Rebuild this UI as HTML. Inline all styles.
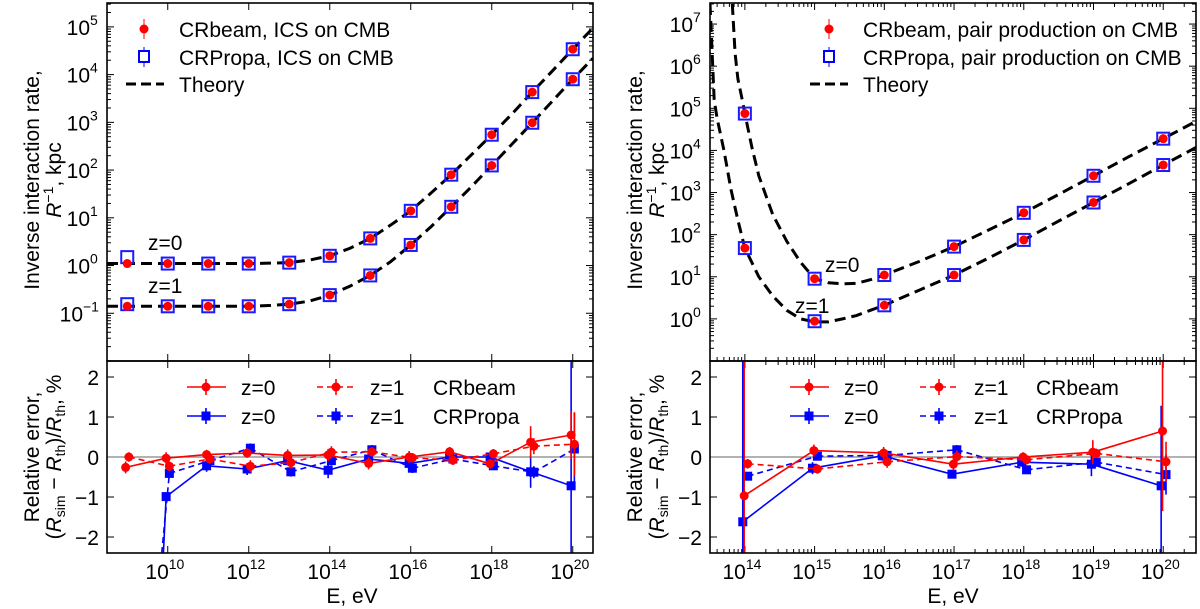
<!DOCTYPE html>
<html><head><meta charset="utf-8"><style>
html,body{margin:0;padding:0;background:#fff;width:1200px;height:609px;overflow:hidden;position:relative}
svg{display:block;position:absolute;left:0;top:0;overflow:hidden}
svg text{font-family:"Liberation Sans","DejaVu Sans",sans-serif;fill:#000}
</style></head><body>
<svg id="fig" width="1200" height="609" viewBox="0 0 1200 609" xmlns="http://www.w3.org/2000/svg"></svg>
<script>
// ---------- LEFT PANEL DATA (ICS on CMB) ----------
const icsE = [9,10,11,12,13,14,15,16,17,18,19,20];
const icsBeamZ0 = [1.1,1.1,1.1,1.1,1.15,1.6,3.7,14,80,550,4300,34000];
const icsPropaZ0 = [1.5,1.1,1.1,1.1,1.15,1.6,3.7,14,80,550,4300,34000];
const icsBeamZ1 = [0.14,0.14,0.14,0.14,0.155,0.24,0.62,2.7,17,125,980,8000];
const icsPropaZ1 = [0.155,0.14,0.14,0.14,0.155,0.24,0.62,2.7,17,125,980,8000];
const icsThE = [8.5,9,9.5,10,10.5,11,11.5,12,12.5,13,13.5,14,14.5,15,15.5,16,16.5,17,17.5,18,18.5,19,19.5,20,20.5];
const icsThZ0 = [1.1,1.1,1.1,1.1,1.1,1.1,1.1,1.1,1.12,1.15,1.3,1.6,2.3,3.7,7,14,33,80,210,550,1500,4300,12000,34000,95000];
const icsThZ1 = [0.14,0.14,0.14,0.14,0.14,0.14,0.14,0.14,0.145,0.155,0.18,0.24,0.37,0.62,1.2,2.7,6.5,17,45,125,350,980,2800,8000,22000];
// relative errors, %
const icsErrBeamZ0 = [-0.26,-0.03,0.06,0.1,0.04,0.05,-0.16,0,0.13,-0.17,0.37,0.55];
const icsErrBeamZ0Unc = [0.15,0.15,0.12,0.12,0.15,0.15,0.15,0.15,0.12,0.12,0.4,0.6];
const icsErrBeamZ1 = [0,-0.23,-0.05,-0.23,-0.14,0.12,0.13,-0.02,-0.08,0.08,0.27,0.32];
const icsErrBeamZ1Unc = [0.12,0.12,0.12,0.15,0.15,0.15,0.12,0.12,0.12,0.12,0.2,0.8];
const icsErrPropaZ0 = [-22,-0.99,-0.22,-0.3,-0.09,-0.33,-0.05,-0.16,0,0,-0.37,-0.72];
const icsErrPropaZ0Unc = [0.5,0.1,0.15,0.15,0.12,0.2,0.12,0.12,0.1,0.1,0.4,6];
const icsErrPropaZ1 = [-11,-0.41,-0.09,0.22,-0.37,-0.09,0.18,-0.28,-0.05,-0.22,-0.38,0.2];
const icsErrPropaZ1Unc = [0.5,0.1,0.1,0.12,0.12,0.12,0.12,0.12,0.1,0.1,0.15,0.9];

// ---------- RIGHT PANEL DATA (pair production on CMB) ----------
const ppE = [14,15,16,17,18,19,20];
const ppBeamZ0 = [75000,9,11,52,330,2500,19000];
const ppPropaZ0 = [75000,9,11,52,330,2500,19000];
const ppBeamZ1 = [48,0.88,2.1,11,75,580,4500];
const ppPropaZ1 = [48,0.88,2.1,11,75,580,4500];
const ppThZ0E = [13.82,13.86,13.9,13.95,14,14.1,14.2,14.4,14.6,14.8,15,15.2,15.4,15.6,15.8,16,16.5,17,17.5,18,18.5,19,19.5,20,20.5];
const ppThZ0 = [3e7,2e6,5e5,2e5,75000,12000,2500,300,70,22,9,7.2,6.8,7,8.5,11,23,52,130,330,900,2500,7000,19000,52000];
const ppThZ1E = [13.5,13.56,13.6,13.7,13.8,13.9,14,14.2,14.4,14.6,14.8,15,15.2,15.4,15.6,15.8,16,16.5,17,17.5,18,18.5,19,19.5,20,20.5];
const ppThZ1 = [3e7,1.6e5,6e4,1e4,1200,220,48,10,3.5,1.6,1.0,0.85,0.85,1.0,1.2,1.6,2.1,4.8,11,28,75,210,580,1600,4500,12500];
const ppErrBeamZ0 = [-0.97,0.16,0.1,-0.18,0,0.12,0.65];
const ppErrBeamZ0Unc = [10,0.15,0.15,0.15,0.12,0.3,2];
const ppErrBeamZ1 = [-0.17,-0.3,-0.12,0.01,-0.07,0.09,-0.12];
const ppErrBeamZ1Unc = [0.12,0.12,0.15,0.15,0.12,0.12,0.5];
const ppErrPropaZ0 = [-1.62,-0.28,0.03,-0.43,-0.13,-0.18,-0.72];
const ppErrPropaZ0Unc = [10,0.15,0.12,0.1,0.1,0.3,2];
const ppErrPropaZ1 = [-0.48,0.02,0.04,0.18,-0.32,-0.13,-0.44];
const ppErrPropaZ1Unc = [0.1,0.1,0.12,0.12,0.1,0.1,0.5];

const NS="http://www.w3.org/2000/svg";
const svg=document.getElementById('fig');
function el(tag,attrs,parent){const e=document.createElementNS(NS,tag);for(const k in attrs)e.setAttribute(k,attrs[k]);(parent||svg).appendChild(e);return e;}

// clip polyline of points to y range [ya,yb]; returns path d
function clipPath(pts,ya,yb){
  let d='';
  const inside=p=>p[1]>=ya&&p[1]<=yb;
  const cross=(p,q,y)=>[p[0]+(q[0]-p[0])*(y-p[1])/(q[1]-p[1]),y];
  for(let i=0;i<pts.length-1;i++){
    let p=pts[i],q=pts[i+1];
    if(!inside(p)&&!inside(q)){continue;}
    if(!inside(p)) p=cross(p,q,p[1]<ya?ya:yb);
    if(!inside(q)) q=cross(p,q,q[1]<ya?ya:yb);
    d+=`M${p[0].toFixed(2)},${p[1].toFixed(2)}L${q[0].toFixed(2)},${q[1].toFixed(2)}`;
  }
  return d;
}

function panel(cfg){
  const g=el('g',{});
  
  
  const {x0,x1,xmin,xmax}=cfg;
  const X=v=>x0+(v-xmin)/(xmax-xmin)*(x1-x0);
  const tTop=3,tBot=361,bTop=361,bBot=553;
  const Yt=v=>{const l=Math.log10(v);return tBot-(l-cfg.ymin)/(cfg.ymax-cfg.ymin)*(tBot-tTop);};
  const Yb=v=>bBot-(v+2.4)/4.8*(bBot-bTop);
  const clamp=y=>Math.max(bTop,Math.min(bBot,y));
  const clipT='ct'+cfg.id, clipB='cb'+cfg.id;
  const defs=el('defs',{},g);
  const c1=el('clipPath',{id:clipT},defs);el('rect',{x:x0,y:tTop,width:x1-x0,height:tBot-tTop},c1);
  const c2=el('clipPath',{id:clipB},defs);el('rect',{x:x0,y:bTop,width:x1-x0,height:bBot-bTop},c2);

  const tickG=el('g',{stroke:'#000','stroke-width':1},g);
  for(let d=Math.ceil(xmin);d<=xmax;d++){
    if(cfg.xMajorStep===2 && d%2!==0) continue;
    const x=X(d);
    [tTop,tBot,bBot].forEach(y=>{el('line',{x1:x,x2:x,y1:y,y2:y+(y===tTop?7:-7)},tickG);});
    el('line',{x1:x,x2:x,y1:tBot,y2:tBot+7},tickG);
    if(cfg.xMinor){for(let m=2;m<10;m++){const xm=X(d+Math.log10(m));if(xm<x1){[tTop,tBot,bBot].forEach(y=>el('line',{x1:xm,x2:xm,y1:y,y2:y+(y===tTop?4:-4)},tickG));el('line',{x1:xm,x2:xm,y1:tBot,y2:tBot+4},tickG);}}}
    const t=el('text',{x:x+1,y:579,'font-size':21,'text-anchor':'end'},g);
    t.textContent='10';
    const s=el('text',{x:x+1,y:569,'font-size':14},g);s.textContent=String(d);
  }
  if(cfg.xMinor){for(let m=2;m<10;m++){const xm=X(Math.floor(xmin)+Math.log10(m));if(xm>x0){[tTop,tBot,bBot].forEach(y=>el('line',{x1:xm,x2:xm,y1:y,y2:y+(y===tTop?4:-4)},tickG));}}}
  for(let d=Math.floor(cfg.ymin);d<=Math.ceil(cfg.ymax);d++){
    const y=Yt(Math.pow(10,d));
    if(y>=tTop-0.5&&y<=tBot+0.5){
      el('line',{x1:x0,x2:x0+7,y1:y,y2:y},tickG);el('line',{x1:x1,x2:x1-7,y1:y,y2:y},tickG);
      if(d>=cfg.yLabelMin){
        const off=d<0?16:9;
        const t=el('text',{x:x0-8-off,y:y+8,'font-size':21,'text-anchor':'end'},g);
        t.textContent='10';
        const s2=el('text',{x:x0-8-off,y:y-2,'font-size':14},g);s2.textContent=d<0?'\u2212'+(-d):String(d);
      }
    }
    for(let m=2;m<10;m++){const ym=Yt(m*Math.pow(10,d));if(ym>tTop&&ym<tBot){el('line',{x1:x0,x2:x0+4,y1:ym,y2:ym},tickG);el('line',{x1:x1,x2:x1-4,y1:ym,y2:ym},tickG);}}
  }
  [-2,-1,0,1,2].forEach(v=>{const y=Yb(v);el('line',{x1:x0,x2:x0+7,y1:y,y2:y},tickG);el('line',{x1:x1,x2:x1-7,y1:y,y2:y},tickG);
    const t=el('text',{x:x0-8,y:y+8,'font-size':21,'text-anchor':'end'},g);t.textContent=v<0?'\u2212'+(-v):String(v);});
  el('line',{x1:x0,x2:x1,y1:Yb(0),y2:Yb(0),stroke:'#999','stroke-width':1.5},g);

  const tg=el('g',{'clip-path':`url(#${clipT})`},g);
  cfg.theory.forEach(([E,V],i)=>{
    const p=el('path',{d:clipPath(E.map((e,k)=>[X(e),Yt(V[k])]),tTop,tBot),fill:'none',stroke:'#000','stroke-width':3,'stroke-dasharray':'11,6'},tg);
    p.setAttribute('d',E.map((e,k)=>(k?'L':'M')+X(e).toFixed(2)+','+Math.max(tTop,Yt(V[k])).toFixed(2)).join(''));
    
    
  });
  cfg.top.forEach(s=>{
    s.E.forEach((e,k)=>{
      if(s.type==='sq'){const r=el('rect',{x:X(e)-6,y:Yt(s.V[k])-6,width:12,height:12,fill:'none',stroke:'#1a1aff','stroke-width':2},tg);
        }
    });
  });
  cfg.top.forEach(s=>{
    s.E.forEach((e,k)=>{
      if(s.type==='ci'){const c=el('circle',{cx:X(e),cy:Yt(s.V[k]),r:4.5,fill:'#f00'},tg);
        }
    });
  });
  const bg=el('g',{'clip-path':`url(#${clipB})`},g);
  cfg.bottom.forEach(s=>{
    const xs=s.E.map(e=>X(e+s.off));
    const pl=el('path',{d:clipPath(xs.map((x,k)=>[x,Yb(s.V[k])]),bTop,bBot),fill:'none',stroke:s.col,'stroke-width':1.6},bg);
    if(s.dash)pl.setAttribute('stroke-dasharray','6,4');
    
    
    xs.forEach((x,k)=>{
      const yc=Yb(s.V[k]);
      if(yc<bTop||yc>bBot) return;
      el('line',{x1:x,x2:x,y1:clamp(Yb(s.V[k]-s.U[k])),y2:clamp(Yb(s.V[k]+s.U[k])),stroke:s.col,'stroke-width':1.6},bg);
      let m;
      if(s.sq) m=el('rect',{x:x-4.5,y:yc-4.5,width:9,height:9,fill:s.col},bg);
      else m=el('circle',{cx:x,cy:yc,r:4.5,fill:s.col},bg);
      
      
    });
  });
  el('rect',{x:x0,y:tTop,width:x1-x0,height:tBot-tTop,fill:'none',stroke:'#000','stroke-width':1.6},g);
  el('rect',{x:x0,y:bTop,width:x1-x0,height:bBot-bTop,fill:'none',stroke:'#000','stroke-width':1.6},g);
}

panel({id:'L',name:'ics-panel',x0:107,x1:593,xmin:8.5,xmax:20.5,ymin:-2,ymax:5.5,yLabelMin:-1,xMajorStep:2,xMinor:false,
  theory:[[icsThE,icsThZ0],[icsThE,icsThZ1]],
  top:[{type:'sq',E:icsE,V:icsPropaZ0},{type:'sq',E:icsE,V:icsPropaZ1},{type:'ci',E:icsE,V:icsBeamZ0},{type:'ci',E:icsE,V:icsBeamZ1}],
  bottom:[
    {name:'crpropa-z1',E:icsE,V:icsErrPropaZ1,U:icsErrPropaZ1Unc,col:'#00f',dash:true,sq:true,off:0.04},
    {name:'crpropa-z0',E:icsE,V:icsErrPropaZ0,U:icsErrPropaZ0Unc,col:'#00f',dash:false,sq:true,off:-0.04},
    {name:'crbeam-z1',E:icsE,V:icsErrBeamZ1,U:icsErrBeamZ1Unc,col:'#f00',dash:true,sq:false,off:0.04},
    {name:'crbeam-z0',E:icsE,V:icsErrBeamZ0,U:icsErrBeamZ0Unc,col:'#f00',dash:false,sq:false,off:-0.04}]
});
panel({id:'R',name:'pair-production-panel',x0:710,x1:1196,xmin:13.5,xmax:20.47,ymin:-1,ymax:7.5,yLabelMin:0,xMajorStep:1,xMinor:true,
  theory:[[ppThZ0E,ppThZ0],[ppThZ1E,ppThZ1]],
  top:[{type:'sq',E:ppE,V:ppPropaZ0},{type:'sq',E:ppE,V:ppPropaZ1},{type:'ci',E:ppE,V:ppBeamZ0},{type:'ci',E:ppE,V:ppBeamZ1}],
  bottom:[
    {name:'crpropa-z1',E:ppE,V:ppErrPropaZ1,U:ppErrPropaZ1Unc,col:'#00f',dash:true,sq:true,off:0.04},
    {name:'crpropa-z0',E:ppE,V:ppErrPropaZ0,U:ppErrPropaZ0Unc,col:'#00f',dash:false,sq:true,off:-0.03},
    {name:'crbeam-z1',E:ppE,V:ppErrBeamZ1,U:ppErrBeamZ1Unc,col:'#f00',dash:true,sq:false,off:0.04},
    {name:'crbeam-z0',E:ppE,V:ppErrBeamZ0,U:ppErrBeamZ0Unc,col:'#f00',dash:false,sq:false,off:-0.01}]
});
</script>
<svg width="1200" height="609" xmlns="http://www.w3.org/2000/svg">
<g font-family="Liberation Sans, sans-serif" font-size="21">
 <text transform="translate(39,180) rotate(-90)" text-anchor="middle">Inverse interaction rate,</text>
 <text transform="translate(61,180) rotate(-90)" text-anchor="middle"><tspan font-style="italic">R</tspan><tspan font-size="14" dy="-8">−1</tspan><tspan dy="8">, kpc</tspan></text>
 <text transform="translate(39,457) rotate(-90)" text-anchor="middle">Relative error,</text>
 <text transform="translate(61,457) rotate(-90)" text-anchor="middle">(<tspan font-style="italic">R</tspan><tspan font-size="14" dy="4">sim</tspan><tspan dy="-4"> − </tspan><tspan font-style="italic">R</tspan><tspan font-size="14" dy="4">th</tspan><tspan dy="-4">)/</tspan><tspan font-style="italic">R</tspan><tspan font-size="14" dy="4">th</tspan><tspan dy="-4">, %</tspan></text>
 <text transform="translate(642,180) rotate(-90)" text-anchor="middle">Inverse interaction rate,</text>
 <text transform="translate(664,180) rotate(-90)" text-anchor="middle"><tspan font-style="italic">R</tspan><tspan font-size="14" dy="-8">−1</tspan><tspan dy="8">, kpc</tspan></text>
 <text transform="translate(642,457) rotate(-90)" text-anchor="middle">Relative error,</text>
 <text transform="translate(664,457) rotate(-90)" text-anchor="middle">(<tspan font-style="italic">R</tspan><tspan font-size="14" dy="4">sim</tspan><tspan dy="-4"> − </tspan><tspan font-style="italic">R</tspan><tspan font-size="14" dy="4">th</tspan><tspan dy="-4">)/</tspan><tspan font-style="italic">R</tspan><tspan font-size="14" dy="4">th</tspan><tspan dy="-4">, %</tspan></text>
 <text x="352" y="603" text-anchor="middle">E, eV</text>
 <text x="953" y="603" text-anchor="middle">E, eV</text>
 <text x="148" y="250">z=0</text>
 <text x="148" y="293">z=1</text>
 <text x="825" y="272">z=0</text>
 <text x="795" y="313">z=1</text>
 <g>
  <line x1="144" x2="144" y1="19" y2="39" stroke="#f00" stroke-width="1"/><circle cx="144" cy="29" r="4.5" fill="#f00"/>
  <text x="179" y="37">CRbeam, ICS on CMB</text>
  <line x1="144" x2="144" y1="47" y2="67" stroke="#00f" stroke-width="1"/><rect x="139" y="51" width="10" height="11" fill="#fff" stroke="#00f" stroke-width="2"/>
  <text x="179" y="65">CRPropa, ICS on CMB</text>
  <line x1="126" x2="164" y1="84" y2="84" stroke="#000" stroke-width="3" stroke-dasharray="10,5"/>
  <text x="179" y="92">Theory</text>
 </g>
 <g>
  <line x1="829" x2="829" y1="19" y2="39" stroke="#f00" stroke-width="1"/><circle cx="829" cy="29" r="4.5" fill="#f00"/>
  <text x="863" y="37">CRbeam, pair production on CMB</text>
  <line x1="829" x2="829" y1="47" y2="67" stroke="#00f" stroke-width="1"/><rect x="824" y="51" width="10" height="11" fill="#fff" stroke="#00f" stroke-width="2"/>
  <text x="863" y="65">CRPropa, pair production on CMB</text>
  <line x1="810" x2="848" y1="84" y2="84" stroke="#000" stroke-width="3" stroke-dasharray="10,5"/>
  <text x="863" y="92">Theory</text>
 </g>
 <g>
  <line x1="187" x2="226" y1="387" y2="387" stroke="#f00" stroke-width="1.6"/><line x1="206" x2="206" y1="379" y2="395" stroke="#f00" stroke-width="1.6"/><circle cx="206" cy="387" r="4.5" fill="#f00"/>
  <text x="241" y="395">z=0</text>
  <line x1="317" x2="355" y1="387" y2="387" stroke="#f00" stroke-width="1.6" stroke-dasharray="6,4"/><line x1="336" x2="336" y1="379" y2="395" stroke="#f00" stroke-width="1.6"/><circle cx="336" cy="387" r="4.5" fill="#f00"/>
  <text x="370" y="395">z=1</text><text x="433" y="395">CRbeam</text>
  <line x1="187" x2="226" y1="416" y2="416" stroke="#00f" stroke-width="1.6"/><line x1="206" x2="206" y1="408" y2="424" stroke="#00f" stroke-width="1.6"/><rect x="201.5" y="411.5" width="9" height="9" fill="#00f"/>
  <text x="241" y="424">z=0</text>
  <line x1="317" x2="355" y1="416" y2="416" stroke="#00f" stroke-width="1.6" stroke-dasharray="6,4"/><line x1="336" x2="336" y1="408" y2="424" stroke="#00f" stroke-width="1.6"/><rect x="331.5" y="411.5" width="9" height="9" fill="#00f"/>
  <text x="370" y="424">z=1</text><text x="433" y="424">CRPropa</text>
 </g>
 <g>
  <line x1="790" x2="829" y1="387" y2="387" stroke="#f00" stroke-width="1.6"/><line x1="809" x2="809" y1="379" y2="395" stroke="#f00" stroke-width="1.6"/><circle cx="809" cy="387" r="4.5" fill="#f00"/>
  <text x="844" y="395">z=0</text>
  <line x1="920" x2="958" y1="387" y2="387" stroke="#f00" stroke-width="1.6" stroke-dasharray="6,4"/><line x1="939" x2="939" y1="379" y2="395" stroke="#f00" stroke-width="1.6"/><circle cx="939" cy="387" r="4.5" fill="#f00"/>
  <text x="974" y="395">z=1</text><text x="1036" y="395">CRbeam</text>
  <line x1="790" x2="829" y1="416" y2="416" stroke="#00f" stroke-width="1.6"/><line x1="809" x2="809" y1="408" y2="424" stroke="#00f" stroke-width="1.6"/><rect x="804.5" y="411.5" width="9" height="9" fill="#00f"/>
  <text x="844" y="424">z=0</text>
  <line x1="920" x2="958" y1="416" y2="416" stroke="#00f" stroke-width="1.6" stroke-dasharray="6,4"/><line x1="939" x2="939" y1="408" y2="424" stroke="#00f" stroke-width="1.6"/><rect x="934.5" y="411.5" width="9" height="9" fill="#00f"/>
  <text x="974" y="424">z=1</text><text x="1036" y="424">CRPropa</text>
 </g>
</g>
</svg>
</body></html>
